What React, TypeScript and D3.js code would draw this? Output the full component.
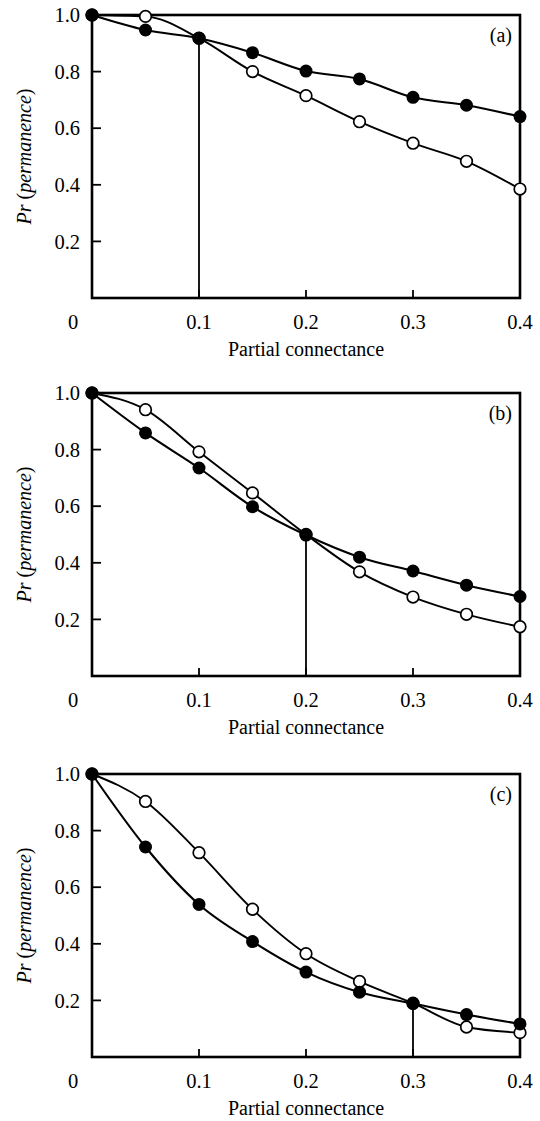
import React from "react";
import * as d3 from "d3";

// partial connectance values sampled in every panel
const connectance = [0, 0.05, 0.1, 0.15, 0.2, 0.25, 0.3, 0.35, 0.4];

// panel (a)
const filledA = [1.0, 0.947, 0.918, 0.867, 0.802, 0.774, 0.709, 0.681, 0.641];
const openA = [1.0, 0.995, 0.918, 0.8, 0.715, 0.623, 0.547, 0.483, 0.385];
// panel (b)
const filledB = [1.0, 0.859, 0.735, 0.598, 0.498, 0.42, 0.371, 0.321, 0.281];
const openB = [1.0, 0.941, 0.792, 0.647, 0.5, 0.368, 0.279, 0.218, 0.174];
// panel (c)
const filledC = [1.0, 0.742, 0.539, 0.408, 0.3, 0.229, 0.189, 0.15, 0.117];
const openC = [1.0, 0.903, 0.722, 0.522, 0.365, 0.267, 0.19, 0.106, 0.086];

const crossings = [0.1, 0.2, 0.3];
const panelLabels = ["(a)", "(b)", "(c)"];
const xTicks = [0.1, 0.2, 0.3, 0.4];
const yTicks = [0.2, 0.4, 0.6, 0.8, 1.0];
const xTitle = "Partial connectance";

const panels = [
  { filled: filledA, open: openA, cross: crossings[0], label: panelLabels[0] },
  { filled: filledB, open: openB, cross: crossings[1], label: panelLabels[1] },
  { filled: filledC, open: openC, cross: crossings[2], label: panelLabels[2] },
];

const W = 540, H = 1121;
const panelTops = [15, 393, 774];
const plotH = 283;
const left = 92, right = 520;
const font = "'Liberation Serif', 'Times New Roman', serif";
const tickSize = 20.5;
const titleSize = 20;

function Panel({ p, top }: { p: typeof panels[0]; top: number }) {
  const bottom = top + plotH;
  const x = d3.scaleLinear().domain([0, 0.4]).range([left, right]);
  const y = d3.scaleLinear().domain([0, 1]).range([bottom, top]);
  const line = d3.line<number>()
    .x((_, i) => x(connectance[i]))
    .y((d) => y(d))
    .curve(d3.curveMonotoneX);
  const ci = connectance.findIndex((c) => Math.abs(c - p.cross) < 1e-9);
  const crossVal = p.filled[ci];

  return (
    <g>
      {/* y ticks, pointing inward */}
      {yTicks.map((t) => (
        <g key={"y" + t}>
          {t < 1 && <line x1={left} x2={left + 9} y1={y(t)} y2={y(t)} stroke="#000" strokeWidth={1.8} />}
          <text x={left - 12} y={y(t)} dy="0.35em" textAnchor="end" fontSize={tickSize} fontFamily={font}>
            {t.toFixed(1)}
          </text>
        </g>
      ))}
      {/* x ticks */}
      {xTicks.map((t) => (
        <g key={"x" + t}>
          {t < 0.4 && <line x1={x(t)} x2={x(t)} y1={bottom} y2={bottom - 8} stroke="#000" strokeWidth={1.8} />}
          <text x={x(t)} y={bottom + 31} textAnchor="middle" fontSize={tickSize} fontFamily={font}>
            {t.toFixed(1)}
          </text>
        </g>
      ))}
      <text x={73} y={bottom + 31} textAnchor="middle" fontSize={tickSize} fontFamily={font}>0</text>
      <text x={(left + right) / 2} y={bottom + 58} textAnchor="middle" fontSize={titleSize} fontFamily={font}>
        {xTitle}
      </text>
      <text
        transform={`translate(31,${(top + bottom) / 2}) rotate(-90)`}
        textAnchor="middle"
        fontSize={titleSize}
        fontFamily={font}
      >
        <tspan fontStyle="italic">Pr</tspan>
        <tspan> (</tspan>
        <tspan fontStyle="italic">permanence</tspan>
        <tspan>)</tspan>
      </text>
      <text x={right - 8} y={top + 27} textAnchor="end" fontSize={titleSize} fontFamily={font}>{p.label}</text>

      {/* frame */}
      <rect x={left} y={top} width={right - left} height={plotH} fill="none" stroke="#000" strokeWidth={2.6} />

      {/* crossing marker line */}
      <line x1={x(p.cross)} x2={x(p.cross)} y1={bottom} y2={y(crossVal)} stroke="#000" strokeWidth={1.8} />

      <path d={line(p.open) || ""} fill="none" stroke="#000" strokeWidth={1.9} />
      <path d={line(p.filled) || ""} fill="none" stroke="#000" strokeWidth={2.1} />
      {p.open.map((v, i) => (
        <circle key={"o" + i} cx={x(connectance[i])} cy={y(v)} r={5.8} fill="#fff" stroke="#000" strokeWidth={1.7} />
      ))}
      {p.filled.map((v, i) => (
        <circle key={"f" + i} cx={x(connectance[i])} cy={y(v)} r={6.5} fill="#000" />
      ))}
    </g>
  );
}

export default function App() {
  return (
    <svg
      width={W}
      height={H}
      style={{ position: "absolute", left: 0, top: 0, background: "#fff" }}
    >
      {panels.map((p, i) => (
        <Panel key={i} p={p} top={panelTops[i]} />
      ))}
    </svg>
  );
}
